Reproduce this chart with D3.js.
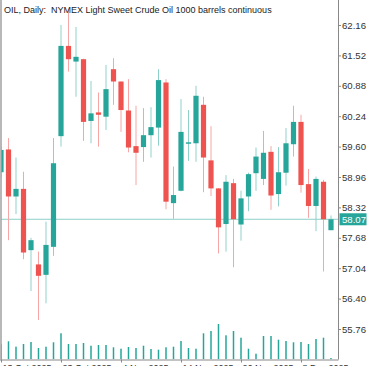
<!DOCTYPE html>
<html>
<head>
<meta charset="utf-8">
<script src="https://cdn.jsdelivr.net/npm/d3@7"></script>
<style>
  body { margin: 0; background: #fff; }
  svg { display: block; font-family: "Liberation Sans", Arial, sans-serif; }
</style>
</head>
<body>
<svg id="chart" width="375" height="366"></svg>
<script>
// daily bars, 13 Oct 2025 .. 12 Dec 2025
const dates = [
  "2025-10-13","2025-10-14","2025-10-15","2025-10-16","2025-10-17",
  "2025-10-20","2025-10-21","2025-10-22","2025-10-23","2025-10-24",
  "2025-10-27","2025-10-28","2025-10-29","2025-10-30","2025-10-31",
  "2025-11-03","2025-11-04","2025-11-05","2025-11-06","2025-11-07",
  "2025-11-10","2025-11-11","2025-11-12","2025-11-13","2025-11-14",
  "2025-11-17","2025-11-18","2025-11-19","2025-11-20","2025-11-21",
  "2025-11-24","2025-11-25","2025-11-26","2025-11-27","2025-11-28",
  "2025-12-01","2025-12-02","2025-12-03","2025-12-04","2025-12-05",
  "2025-12-08","2025-12-09","2025-12-10","2025-12-11","2025-12-12"
];
const opens  = [59.06,59.54,58.55,58.71,57.42,57.12,56.90,57.49,59.82,61.72,61.39,61.44,60.14,60.32,60.23,61.23,60.97,60.36,59.61,59.59,59.84,60.00,60.95,58.41,58.67,59.66,59.67,60.48,59.31,58.72,57.97,58.83,57.96,58.55,59.04,58.92,59.49,58.60,59.05,59.65,60.12,58.81,58.35,58.86,57.84];
const highs  = [59.60,59.78,59.37,59.07,57.68,57.39,58.02,59.78,62.16,62.50,62.12,61.45,60.98,60.74,61.32,61.46,60.97,61.02,60.46,60.41,60.43,61.23,61.02,59.18,60.60,60.37,60.88,60.65,60.03,58.73,59.00,58.92,58.67,59.05,59.58,59.93,59.61,59.59,59.99,60.46,60.27,59.13,58.97,58.90,58.15];
const lows   = [58.95,57.63,58.18,57.23,56.56,55.95,56.30,57.30,59.60,61.18,60.65,59.72,59.67,59.60,59.95,60.48,59.91,59.48,58.79,59.28,59.37,59.62,58.28,58.08,58.66,59.30,59.28,58.64,58.56,57.35,57.39,57.06,57.62,58.24,58.67,58.79,58.27,58.34,58.78,59.39,58.63,58.10,57.82,56.97,57.84];
const closes = [59.53,58.55,58.71,57.37,57.63,56.88,57.53,59.25,61.72,61.44,61.49,60.12,60.30,60.27,60.81,60.97,60.37,59.58,59.47,59.84,60.01,61.00,58.44,58.58,59.91,59.69,60.67,59.37,58.72,57.90,58.86,58.07,58.51,59.02,59.39,59.47,58.57,59.06,59.67,60.12,58.79,58.35,58.92,58.07,58.07];
const volumes = [150,180,126,153,173,113,126,170,260,153,153,163,136,143,143,120,106,123,113,136,103,96,120,126,183,113,106,260,283,353,240,283,216,106,56,233,233,196,183,170,173,153,203,216,13];

const priceTicks = [62.16,61.52,60.88,60.24,59.60,58.96,58.32,57.68,57.04,56.40,55.76];
const dateTicks = ["2025-10-13","2025-10-23","2025-11-04","2025-11-14","2025-11-26","2025-12-08"];
const lastPrice = 58.07;
const title = "OIL, Daily:  NYMEX Light Sweet Crude Oil 1000 barrels continuous";

const up = "#26a69a", down = "#ef5350";
const upWick = "#8fd1ca", downWick = "#f7a6a5";
const fontSize = 9;

const svg = d3.select("#chart");
const plotLeft = 1, plotRight = 338, plotBottom = 359.5;

const parse = d3.timeParse("%Y-%m-%d");
const fmtDate = d3.timeFormat("%-d %b %Y");

const x = d3.scalePoint().domain(dates).range([1, 331]);
const y = d3.scaleLinear().domain([55.76, 62.16]).range([329, 25]);
const yVol = d3.scaleLinear().domain([0, d3.max(volumes)]).range([359.3, 324]);

const bars = dates.map((d, i) => ({
  date: d, o: opens[i], h: highs[i], l: lows[i], c: closes[i], v: volumes[i]
}));

svg.append("clipPath").attr("id", "plot")
  .append("rect").attr("x", plotLeft).attr("y", 0)
  .attr("width", plotRight - plotLeft).attr("height", plotBottom);

const g = svg.append("g").attr("clip-path", "url(#plot)");

// volume bars
g.append("g").selectAll("rect")
  .data(bars)
  .enter()
  .append("rect")
  .attr("x", d => x(d.date) - 0.75)
  .attr("width", 1.5)
  .attr("y", d => yVol(d.v))
  .attr("height", d => yVol(0) - yVol(d.v))
  .attr("fill", up);

// last price line
g.append("line")
  .attr("x1", plotLeft).attr("x2", plotRight)
  .attr("y1", y(lastPrice)).attr("y2", y(lastPrice))
  .attr("stroke", "#8fd1ca").attr("stroke-width", 1);

// wicks
g.append("g").selectAll("line")
  .data(bars)
  .enter()
  .append("line")
  .attr("x1", d => x(d.date)).attr("x2", d => x(d.date))
  .attr("y1", d => y(d.h)).attr("y2", d => y(d.l))
  .attr("stroke", d => d.c >= d.o ? upWick : downWick)
  .attr("stroke-width", 1);

// bodies
g.append("g").selectAll("rect")
  .data(bars)
  .enter()
  .append("rect")
  .attr("x", d => x(d.date) - 2.6)
  .attr("width", 5.2)
  .attr("y", d => y(Math.max(d.o, d.c)))
  .attr("height", d => Math.max(1.2, Math.abs(y(d.o) - y(d.c))))
  .attr("fill", d => d.c >= d.o ? up : down);

// left frame
svg.append("line")
  .attr("x1", 1).attr("x2", 1).attr("y1", 0).attr("y2", plotBottom)
  .attr("stroke", "#a0a0a0").attr("stroke-width", 1.5);

// right price axis
const yAxis = d3.axisRight(y)
  .tickValues(priceTicks)
  .tickSize(3)
  .tickPadding(1)
  .tickFormat(d3.format(".2f"));

const ya = svg.append("g")
  .attr("transform", `translate(${plotRight},0)`)
  .call(yAxis);
ya.select(".domain").attr("d", `M0.5,0V${plotBottom}`).attr("stroke", "#888");
ya.selectAll(".tick line").attr("stroke", "#888");
ya.selectAll("text").attr("font-size", 9.6).attr("fill", "#333")
  .attr("font-family", "Liberation Sans, Arial, sans-serif");

// bottom date axis
const xAxis = d3.axisBottom(x)
  .tickValues(dateTicks)
  .tickSize(3)
  .tickFormat(d => fmtDate(parse(d)));

const xa = svg.append("g")
  .attr("transform", `translate(0,${plotBottom})`)
  .call(xAxis);
xa.select(".domain").attr("d", `M0,0.5H${plotRight + 0.5}`).attr("stroke", "#888");
xa.selectAll(".tick line").attr("stroke", "#888");
xa.selectAll("text")
  .attr("font-size", fontSize).attr("fill", "#333")
  .attr("text-anchor", "start")
  .attr("x", 1).attr("y", 3).attr("dy", "0.9em")
  .attr("font-family", "Liberation Sans, Arial, sans-serif");

// current price tag
const tagY = y(lastPrice);
svg.append("rect")
  .attr("x", plotRight + 1.5).attr("y", tagY - 6)
  .attr("width", 27).attr("height", 12)
  .attr("fill", up);
svg.append("text")
  .attr("x", plotRight + 4).attr("y", tagY + 3.5)
  .attr("font-size", 9.6).attr("fill", "#fff")
  .text(d3.format(".2f")(lastPrice));

// title
svg.append("text")
  .attr("x", 4).attr("y", 13)
  .attr("font-size", fontSize).attr("fill", "#222")
  .attr("xml:space", "preserve")
  .style("white-space", "pre")
  .text(title);
</script>
</body>
</html>
